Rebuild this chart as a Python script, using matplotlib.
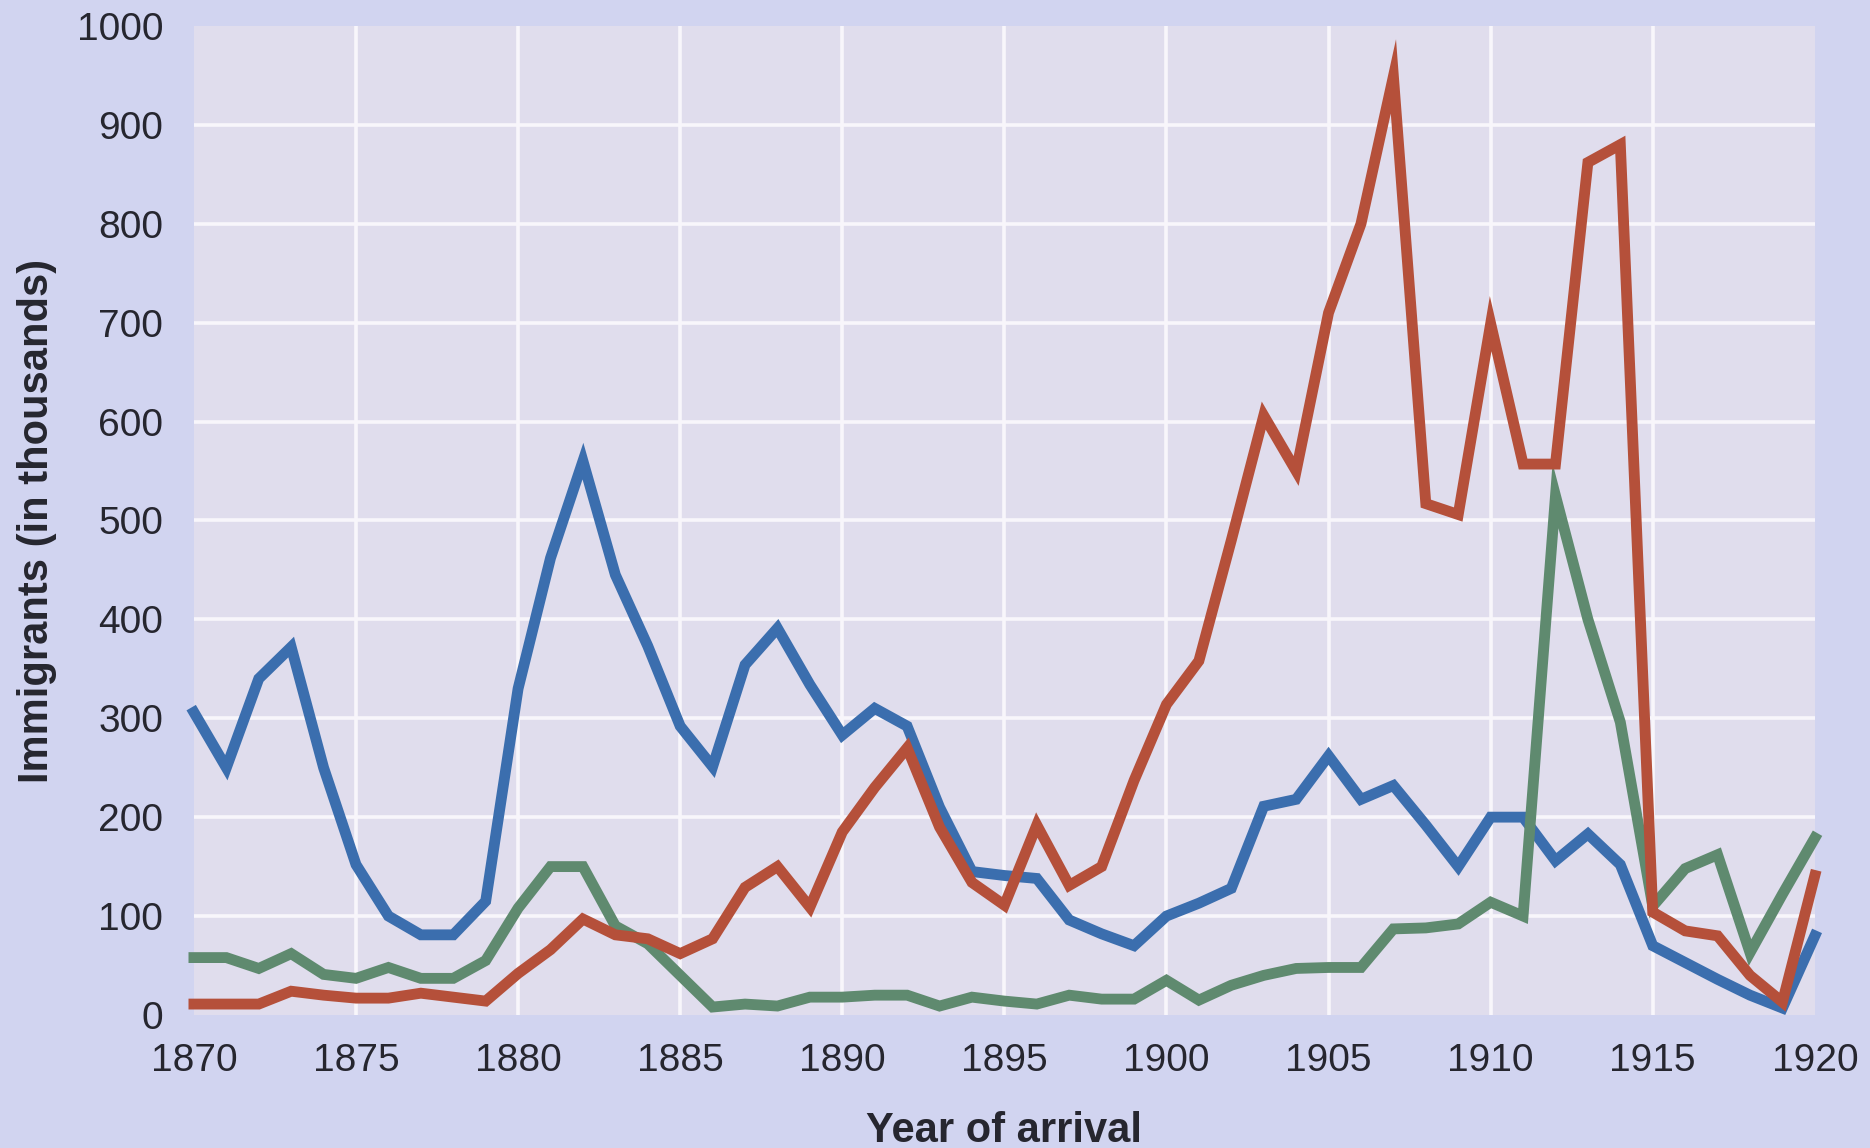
#!/usr/bin/env python
# -*- coding: utf8 -*-

# Import standard modules
import numpy as np
import matplotlib
matplotlib.use("Agg")
import matplotlib.pyplot as plt

# -----------------------------------------------------------------

years = list(range(1870, 1921))

# Immigrants per year (in thousands)
blue_values = [306, 250, 340, 372, 250, 152, 100, 81, 81, 115,
               330, 462, 560, 445, 373, 292, 251, 354, 391, 334,
               283, 310, 292, 210, 145, 141, 138, 96, 82, 70,
               100, 113, 128, 211, 218, 262, 218, 232, 192, 150,
               200, 200, 156, 183, 152, 70, 53, 36, 20, 7,
               80]

red_values = [11, 11, 11, 24, 20, 17, 17, 22, 18, 14,
              42, 66, 97, 81, 77, 62, 77, 129, 150, 109,
              185, 230, 270, 190, 134, 111, 192, 131, 150, 237,
              314, 358, 480, 606, 550, 710, 800, 949, 517, 506,
              699, 557, 557, 862, 880, 104, 85, 80, 40, 13,
              141]

green_values = [58, 58, 47, 62, 41, 37, 48, 37, 37, 55,
                108, 150, 150, 90, 72, 40, 8, 11, 9, 18,
                18, 20, 20, 9, 18, 14, 11, 20, 16, 16,
                35, 15, 30, 40, 47, 48, 48, 87, 88, 92,
                114, 100, 525, 400, 296, 110, 148, 162, 63, 122,
                179]

x_ticks = list(range(1870, 1921, 5))
y_ticks = list(range(0, 1001, 100))

# -----------------------------------------------------------------

fig_color = "#d1d4f0"
panel_color = "#e0dded"
text_color = "#26262f"

plt.rcParams["font.family"] = ["Liberation Sans", "DejaVu Sans"]

fig = plt.figure(figsize=(18.7, 11.48), dpi=100, facecolor=fig_color)
ax = fig.add_axes([0.1037, 0.1159, 0.8668, 0.8615])
ax.set_facecolor(panel_color)

# Grid: white lines, not at the edges
for x in x_ticks[1:-1]:
    ax.axvline(x, color="#f8f6fb", lw=2.6, zorder=1)
for y in y_ticks[1:-1]:
    ax.axhline(y, color="#f8f6fb", lw=2.6, zorder=1)

# Series
ax.plot(years, blue_values, color="#3b6eae", lw=7.8, solid_joinstyle="miter", zorder=3, clip_on=False)
ax.plot(years, green_values, color="#5f8a6f", lw=7.8, solid_joinstyle="miter", zorder=4, clip_on=False)
ax.plot(years, red_values, color="#b5503a", lw=7.8, solid_joinstyle="miter", zorder=5, clip_on=False)

ax.set_xlim(1870, 1920)
ax.set_ylim(0, 1000)

ax.set_xticks(x_ticks)
ax.set_yticks(y_ticks)
ax.tick_params(axis="both", length=0, labelsize=28, colors=text_color)
ax.tick_params(axis="x", pad=20)
ax.tick_params(axis="y", pad=22)

for spine in ax.spines.values():
    spine.set_visible(False)

ax.set_xlabel("Year of arrival", fontsize=30, fontweight="bold", color=text_color, labelpad=23)
ax.set_ylabel("Immigrants (in thousands)", fontsize=30, fontweight="bold", color=text_color, labelpad=14)

# Save the figure
plt.savefig("out.png", dpi=100, facecolor=fig_color)
